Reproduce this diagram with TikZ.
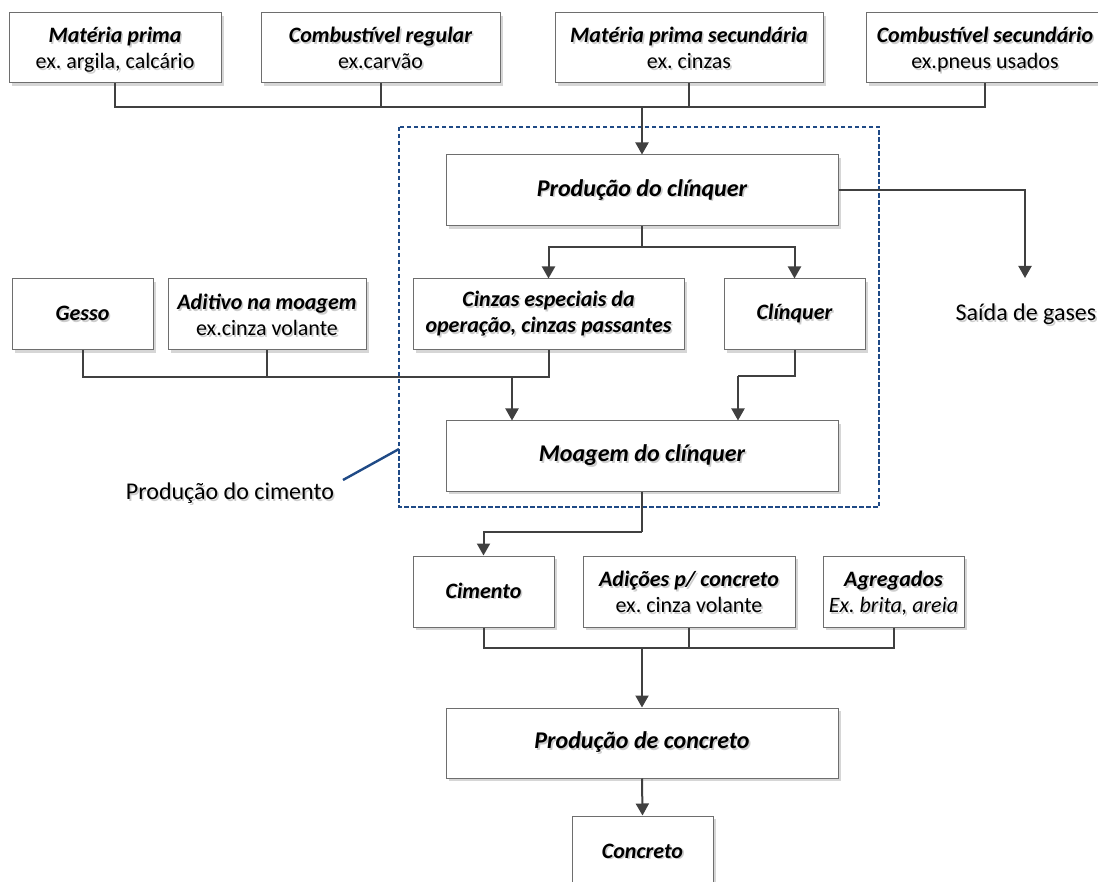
\documentclass[tikz,border=0pt]{standalone}
\usepackage{fontspec}
\setmainfont{Carlito}
\usetikzlibrary{arrows.meta,shadows}
\frenchspacing

\definecolor{linegrey}{HTML}{404040}
\definecolor{boxgrey}{HTML}{6E6E6E}
\definecolor{txtshadow}{HTML}{CDCDCD}
\definecolor{groupblue}{HTML}{1F4A86}

% text with a soft grey shadow behind it
\newcommand\shad[1]{\makebox[0pt][l]{\hspace{1.6pt}\raisebox{-1.6pt}{\color{txtshadow}#1}}#1}
\newcommand\hd[1]{\shad{\bfseries\itshape #1}}
\newcommand\sub[1]{\shad{#1}}
% lines of fixed height and depth, so every title/example pair sits alike
\newcommand\fixedline[1]{\raisebox{0pt}[18pt][2pt]{#1}}
\newcommand\pair[2]{\fixedline{\hd{#1}}\\ \fixedline{\sub{#2}}}
\newcommand\fsmall{\fontsize{22}{26}\selectfont}
\newcommand\fbig{\fontsize{24}{29}\selectfont}

\tikzset{
  box/.style={draw=boxgrey, line width=1pt, fill=white, align=center,
    inner sep=0pt, font=\fsmall,
    drop shadow={shadow xshift=3pt, shadow yshift=-3pt, fill=black!16, opacity=1}},
  conn/.style={draw=linegrey, line width=2pt},
  arr/.style={conn, -{Triangle[width=13pt,length=12pt]}},
  group/.style={draw=groupblue, line width=2.8pt, dash pattern=on 4.5pt off 2.5pt},
}

\begin{document}
\begin{tikzpicture}[x=1pt, y=-1pt]
\useasboundingbox (0,0) rectangle (1098,882);

% cement production group
\draw[group] (399,127) rectangle (879,507);

% raw materials and fuels
\node[box, minimum width=212pt, minimum height=70pt] (mp)  at (115,48)   {\pair{Matéria prima}{ex. argila, calcário}};
\node[box, minimum width=239pt, minimum height=70pt] (cr)  at (380.5,48) {\pair{Combustível regular}{ex.carvão}};
\node[box, minimum width=268pt, minimum height=70pt] (mps) at (689,48)   {\pair{Matéria prima secundária}{ex. cinzas}};
\node[box, minimum width=238pt, minimum height=70pt] (cs)  at (985,48)   {\pair{Combustível secundário}{ex.pneus usados}};

% clinker stage
\node[box, minimum width=392pt, minimum height=71pt, font=\fbig] (pc) at (642,190.5) {\hd{Produção do clínquer}};
\node[font=\fbig] (gas) at (1026,315) {\sub{Saída de gases}};
\node[box, minimum width=271pt, minimum height=71pt] (cz) at (548.5,314.5) {\hd{Cinzas especiais da}\\ \hd{operação, cinzas passantes}};
\node[box, minimum width=141pt, minimum height=71pt] (cl) at (794.5,314.5) {\hd{Clínquer}};
\node[box, minimum width=141pt, minimum height=71pt] (gs) at (82.5,314.5)  {\hd{Gesso}};
\node[box, minimum width=198pt, minimum height=71pt] (ad) at (267,314.5)   {\pair{Aditivo na moagem}{ex.cinza volante}};
\node[box, minimum width=392pt, minimum height=70pt, font=\fbig] (mo) at (642,456) {\hd{Moagem do clínquer}};
\node[font=\fbig] (lbl) at (230,494) {\sub{Produção do cimento}};

% concrete stage
\node[box, minimum width=141pt, minimum height=71pt] (ci)  at (483.5,591.5) {\hd{Cimento}};
\node[box, minimum width=212pt, minimum height=71pt] (adc) at (689,591.5)   {\pair{Adições p/ concreto}{ex. cinza volante}};
\node[box, minimum width=141pt, minimum height=71pt] (ag)  at (893.5,591.5) {\pair{Agregados}{\itshape Ex. brita, areia}};
\node[box, minimum width=392pt, minimum height=70pt, font=\fbig] (pcon) at (642,743) {\hd{Produção de concreto}};
\node[box, minimum width=141pt, minimum height=72pt] (co) at (642.5,852) {\hd{Concreto}};

% junction points
\coordinate (j1) at (642,107);
\coordinate (gastip) at (1025,278);
\coordinate (b1) at (642,247);
\coordinate (j2) at (512,377);
\coordinate (clk) at (738,376);
\coordinate (j3) at (642,532);
\coordinate (j4) at (642,648);
\coordinate (callout) at (343,480);
\coordinate (groupedge) at (399,449);

% connectors
\draw[conn] (mp.south) |- (j1);
\draw[conn] (cr.south) |- (j1);
\draw[conn] (mps.south) |- (j1);
\draw[conn] (cs.south) |- (j1);
\draw[arr] (j1) -- (pc.north);

\draw[arr] (pc.east) -| (gastip);
\draw[conn] (pc.south) -- (b1);
\draw[arr] (b1) -| (cz.north);
\draw[arr] (b1) -| (cl.north);

\draw[conn] (gs.south) |- (j2);
\draw[conn] (ad.south) |- (j2);
\draw[conn] (cz.south) |- (j2);
\draw[arr] (j2) -- (j2 |- mo.north);
\draw[conn] (cl.south) |- (clk);
\draw[arr] (clk) -- (clk |- mo.north);

\draw[conn] (mo.south) -- (j3);
\draw[arr] (j3) -| (ci.north);

\draw[conn] (ci.south) |- (j4);
\draw[conn] (adc.south) |- (j4);
\draw[conn] (ag.south) |- (j4);
\draw[arr] (j4) -- (pcon.north);
\draw[arr] (pcon.south) -- (co.north);

% callout for the group
\draw[draw=groupblue, line width=2.4pt] (callout) -- (groupedge);
\end{tikzpicture}
\end{document}
